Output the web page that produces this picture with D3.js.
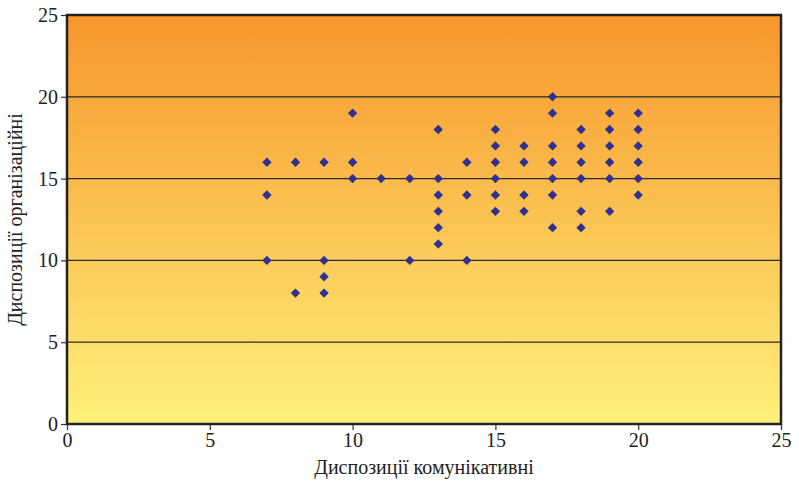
<!DOCTYPE html>
<html><head><meta charset="utf-8">
<script src="https://cdn.jsdelivr.net/npm/d3@7/dist/d3.min.js"></script>
<style>body{margin:0;background:#fff}svg{display:block}
svg text{font-family:"Liberation Serif","DejaVu Serif",serif;}</style>
</head><body>
<script>
const xValues = [7,7,7, 8,8, 9,9,9,9, 10,10,10, 11, 12,12, 13,13,13,13,13,13, 14,14,14, 15,15,15,15,15,15, 16,16,16,16, 17,17,17,17,17,17,17, 18,18,18,18,18,18, 19,19,19,19,19,19, 20,20,20,20,20,20];
const yValues = [16,14,10, 16,8, 16,10,9,8, 19,16,15, 15, 15,10, 18,15,14,13,12,11, 16,14,10, 18,17,16,15,14,13, 17,16,14,13, 20,19,17,16,15,14,12, 18,17,16,15,13,12, 19,18,17,16,15,13, 19,18,17,16,15,14];
const xTicks = [0,5,10,15,20,25];
const yTicks = [0,5,10,15,20,25];
const xTitle = "Диспозиції комунікативні";
const yTitle = "Диспозиції організаційні";

const W = 799, H = 484;
const m = {left:67, top:15, right:18, bottom:60};
const svg = d3.select("body").append("svg").attr("width",W).attr("height",H);
const x = d3.scaleLinear().domain([0,25]).range([m.left, W-m.right]);
const y = d3.scaleLinear().domain([0,25]).range([H-m.bottom, m.top]);

const defs = svg.append("defs");
const g = defs.append("linearGradient").attr("id","bg").attr("x1",0).attr("y1",0).attr("x2",0).attr("y2",1);
g.append("stop").attr("offset","0%").attr("stop-color","#F7962B");
g.append("stop").attr("offset","100%").attr("stop-color","#FFF07C");

svg.append("rect").attr("x",x(0)).attr("y",y(25)).attr("width",x(25)-x(0)).attr("height",y(0)-y(25)).attr("fill","url(#bg)");

svg.append("g").selectAll("line").data(yTicks.filter(d=>d>0&&d<25)).join("line")
  .attr("x1",x(0)).attr("x2",x(25)).attr("y1",d=>y(d)).attr("y2",d=>y(d))
  .attr("stroke","#2a2a2a").attr("stroke-width",1.3);

const xa = svg.append("g").attr("transform",`translate(0,${y(0)})`)
  .call(d3.axisBottom(x).tickValues(xTicks).tickSize(6).tickPadding(3).tickSizeOuter(0));
const ya = svg.append("g").attr("transform",`translate(${x(0)},0)`)
  .call(d3.axisLeft(y).tickValues(yTicks).tickSize(6).tickPadding(3).tickSizeOuter(0));
[xa,ya].forEach(a=>{
  a.attr("font-family",null);
  a.select(".domain").remove();
  a.selectAll("line").attr("stroke","#333").attr("stroke-width",1.2);
  a.selectAll("text").attr("font-size",20).attr("fill","#222");
});

svg.append("rect").attr("x",x(0)).attr("y",y(25)).attr("width",x(25)-x(0)).attr("height",y(0)-y(25))
  .attr("fill","none").attr("stroke","#222").attr("stroke-width",2.5);

const pts = xValues.map((v,i)=>({x:v,y:yValues[i]}));
svg.append("g").selectAll("path").data(pts).join("path")
  .attr("d", d3.symbol(d3.symbolDiamond2, 56))
  .attr("transform",d=>`translate(${x(d.x)},${y(d.y)})`)
  .attr("fill","#2E3192");

svg.append("text").attr("x",(x(0)+x(25))/2).attr("y",474).attr("text-anchor","middle")
  .attr("font-size",20).attr("fill","#222").text(xTitle);
svg.append("text").attr("transform",`translate(22,${(y(0)+y(25))/2}) rotate(-90)`).attr("text-anchor","middle")
  .attr("font-size",20).attr("fill","#222").text(yTitle);
</script>
</body></html>
